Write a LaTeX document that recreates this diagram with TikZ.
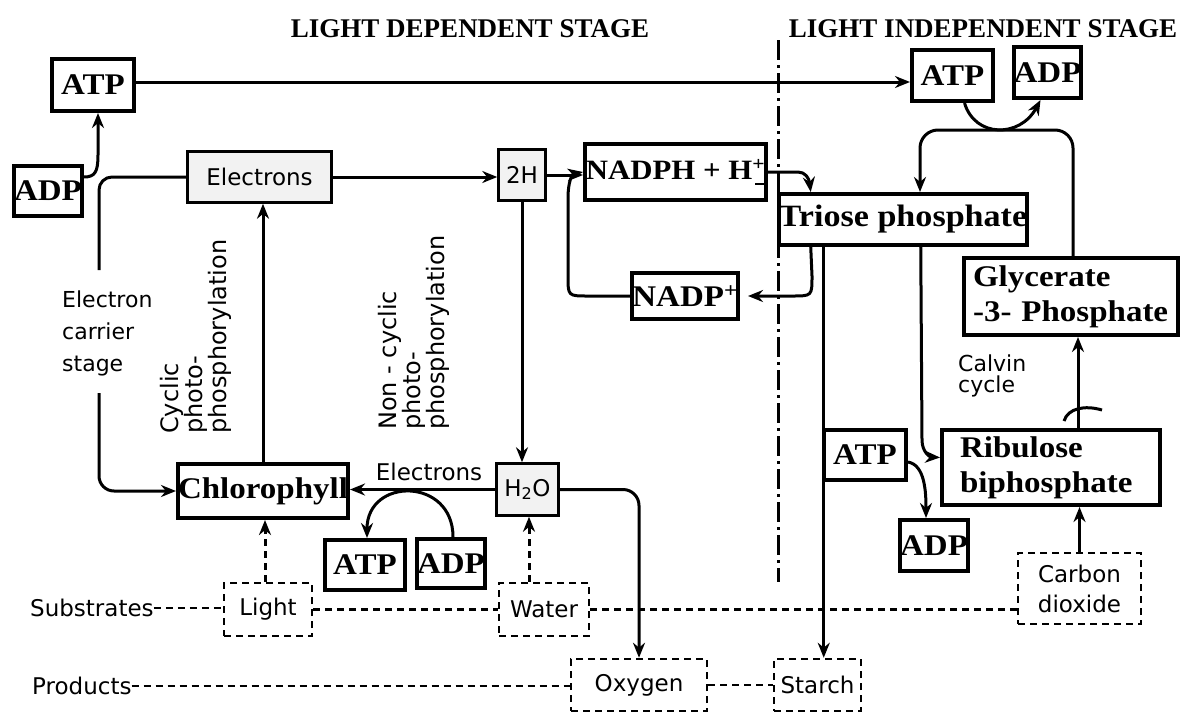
\documentclass[tikz,border=0pt]{standalone}
\usepackage{fontspec}
\setmainfont{Liberation Serif}
\newfontfamily\bxf{Liberation Serif}[FakeStretch=1.1]
\newfontfamily\dvs{DejaVu Sans}
\usetikzlibrary{arrows.meta}
\tikzset{
  bx/.style={draw, line width=4pt, fill=white, inner sep=0pt, font=\bxf\bfseries\fontsize{30}{35}\selectfont},
  sbx/.style={draw, line width=2.5pt, fill=black!5, inner sep=0pt, font=\dvs\fontsize{23}{26}\selectfont},
  dbx/.style={draw, line width=2.5pt, dash pattern=on 7pt off 5pt, fill=white, inner sep=0pt, align=center, font=\dvs\fontsize{23}{30}\selectfont},
  lbl/.style={inner sep=0pt, font=\dvs\fontsize{23}{26}\selectfont},
  rlbl/.style={inner sep=0pt, rotate=90, align=left, anchor=north west, font=\dvs\fontsize{24}{20}\selectfont},
  head/.style={inner sep=0pt, font=\bfseries\fontsize{27}{30}\selectfont},
  ln/.style={line width=3pt},
  conn/.style={line width=3pt, -{Stealth[length=15pt,width=12pt]}},
  dln/.style={line width=2.5pt, dash pattern=on 7pt off 5pt},
  dconn/.style={line width=3pt, dash pattern=on 7pt off 5pt, -{Stealth[length=15pt,width=12pt]}},
  ddash/.style={line width=3pt, dash pattern=on 20pt off 5pt on 3pt off 5pt},
}
\begin{document}
\begin{tikzpicture}[x=1pt,y=-1pt]
\fill[white] (0,0) rectangle (1186,723);
\useasboundingbox (0,0) rectangle (1186,723);

% headings
\node[head] (h1) at (470,29) {LIGHT DEPENDENT STAGE};
\node[head] (h2) at (983,29) {LIGHT INDEPENDENT STAGE};
\coordinate (ddtop) at (778,40);
\coordinate (ddbot) at (778,582);
\draw[ddash] (ddtop) -- (ddbot);

% serif boxes
\node[bx, minimum width=82pt, minimum height=52pt] (atpA) at (93,85) {ATP};
\node[bx, minimum width=66pt, minimum height=50pt] (adpA) at (48,191) {ADP};
\node[bx, minimum width=181pt, minimum height=56pt, font=\bxf\bfseries\fontsize{28}{33}\selectfont] (nadph) at (675.5,172) {NADPH + H\textsuperscript{+}\kern-10pt\rule[-5pt]{9pt}{1.6pt}\kern1pt};
\node[bx, minimum width=106pt, minimum height=46pt] (nadp) at (685,296) {NADP\textsuperscript{+}};
\node[bx, minimum width=81pt, minimum height=51pt] (atpB) at (952.5,75.5) {ATP};
\node[bx, minimum width=65pt, minimum height=51pt] (adpB) at (1047.5,72.5) {ADP};
\node[bx, minimum width=246pt, minimum height=51pt, font=\bxf\bfseries\fontsize{31}{35}\selectfont] (tri) at (903,219.5) {Triose phosphate};
\node[bx, minimum height=77pt, text width=196pt, inner xsep=9pt, align=left] (glyc) at (1071,296.5) {Glycerate\\-3- Phosphate};
\node[bx, minimum height=75pt, text width=182pt, inner xsep=18pt, align=left] (rib) at (1051,467.5) {Ribulose\\biphosphate};
\node[bx, minimum width=82pt, minimum height=50pt] (atpD) at (865,455) {ATP};
\node[bx, minimum width=64pt, minimum height=51pt] (adpD) at (934,545.5) {ADP};
\node[bx, minimum width=170pt, minimum height=54pt] (chl) at (263,491) {Chlorophyll};
\node[bx, minimum width=80pt, minimum height=50pt] (atpC) at (365,565) {ATP};
\node[bx, minimum width=64pt, minimum height=49pt] (adpC) at (451,563.5) {ADP};

% sans boxes
\node[sbx, minimum width=144pt, minimum height=51pt] (elec) at (259.5,177) {Electrons};
\node[sbx, minimum width=47pt, minimum height=51pt] (twoH) at (522,175) {2H};
\node[sbx, minimum width=62pt, minimum height=52pt] (h2o) at (527.5,489.5) {H\textsubscript{2}O};

% dashed boxes
\node[dbx, minimum width=88pt, minimum height=53pt] (light) at (268,609.5) {Light};
\node[dbx, minimum width=90pt, minimum height=53pt] (water) at (544,609.5) {Water};
\node[dbx, minimum width=136pt, minimum height=52pt] (oxy) at (639,685) {Oxygen};
\node[dbx, minimum width=87pt, minimum height=52pt] (starch) at (817.5,685) {Starch};
\node[dbx, minimum width=123pt, minimum height=71pt] (co2) at (1079.5,588.5) {Carbon\\dioxide};

% labels
\node[lbl, anchor=west] (subs) at (30,608) {Substrates};
\node[lbl, anchor=west] (prod) at (32,686) {Products};
\node[lbl, anchor=west, align=left, font=\dvs\fontsize{22}{32}\selectfont] (ecs) at (62,333) {Electron\\carrier\\stage};
\node[rlbl] (cyc) at (160,434) {Cyclic\\photo-\\phosphorylation};
\node[rlbl] (ncyc) at (378,430) {Non - cyclic\\photo-\\phosphorylation};
\node[lbl, anchor=base] (elab) at (429,480) {Electrons};
\node[lbl, anchor=north west, align=left, font=\dvs\fontsize{22}{21}\selectfont] (calv) at (958,355) {Calvin\\cycle};

% connectors
\coordinate (a1) at ([yshift=3pt]atpA.east);
\draw[conn] (a1) -- (a1 -| atpB.west);
\draw[conn] ([yshift=14pt]adpA.east) .. controls (95,177) and (98,172) .. (98,155) -- ([xshift=5pt]atpA.south);
\draw[ln, rounded corners=13pt] (elec.west) -| (99,270);
\draw[conn, rounded corners=15pt] (99,393) |- (chl.west);
\draw[conn] (elec.east) -- (elec.east -| twoH.west);
\draw[conn] (chl.north) -- (chl.north |- elec.south);
\draw[conn] (twoH.east) -- (twoH.east -| nadph.west);
\draw[conn] (nadp.west) -- (588,296) .. controls (568,296) .. (568,276) -- (568,198) .. controls (568,182) and (572,174) .. (nadph.west);
\draw[conn] (twoH.south) -- (twoH.south |- h2o.north);
\draw[conn] (h2o.west) -- (h2o.west -| chl.east);
\draw[conn] ([xshift=2pt]adpC.north) .. controls (453,477) and (367,477) .. ([xshift=2pt]atpC.north);
\draw[dconn] ([xshift=-3pt]light.north) -- ([xshift=-3pt]light.north |- chl.south);
\coordinate (w1) at ([xshift=-15pt]water.north);
\draw[dconn] (w1) -- (w1 |- h2o.south);
\draw[conn, rounded corners=16pt] (h2o.east) -| (oxy.north);

\draw[dln] (subs.east) -- (subs.east -| light.west);
\draw[dln] (light.east) -- (water.west);
\draw[dln] (water.east) -- (water.east -| co2.west);
\draw[dln] (prod.east) -- (prod.east -| oxy.west);
\draw[dln] (oxy.east) -- (starch.west);

\draw[conn] (nadph.east) -- (798,172) .. controls (805,172) and (809,178) .. ([xshift=34pt]tri.north west);
\draw[conn] ([xshift=34pt]tri.south west) -- (812,276) .. controls (812,296) .. (792,296) -- ([xshift=8pt]nadp.east);
\coordinate (ts) at ([xshift=47pt]tri.south west);
\draw[conn] (ts) -- (ts |- starch.north);
\coordinate (tr) at ([xshift=144pt]tri.south west);
\draw[conn] (tr) -- (922,440) .. controls (922,452) and (930,457) .. ([yshift=10pt]rib.west);
\draw[conn] ([yshift=-7pt]atpD.east) .. controls (925,465) and (926,492) .. ([xshift=-8pt]adpD.north);
\coordinate (rg) at ([xshift=27pt]rib.north);
\draw[conn] (rg) -- (rg |- glyc.south);
\draw[ln] (1064,421) .. controls (1068,408) and (1085,405) .. (1102,410);
\draw[conn] (co2.north) -- (co2.north |- rib.south);
\coordinate (gt) at ([xshift=2pt]glyc.north);
\coordinate (cy) at (920,130);
\draw[conn, rounded corners=18pt] (gt) |- (cy) -- ([xshift=17pt]tri.north);
\draw[conn] ([xshift=12pt]atpB.south) .. controls (975,138) and (1020,138) .. ([xshift=-7pt]adpB.south);
\end{tikzpicture}
\end{document}
